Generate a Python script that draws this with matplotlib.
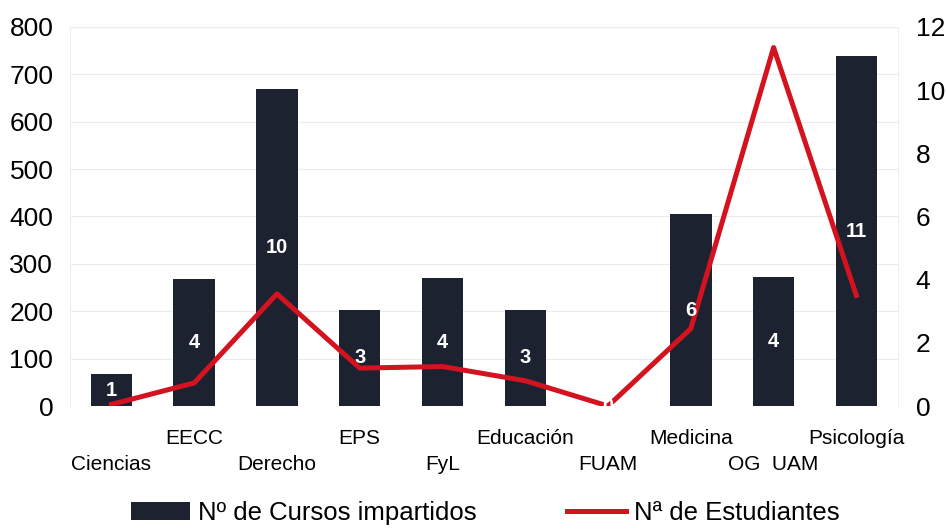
import matplotlib.pyplot as plt
import numpy as np

plt.rcParams['font.family'] = ['Liberation Sans', 'DejaVu Sans']

facultades = ["Ciencias", "EECC", "Derecho", "EPS", "FyL", "Educación",
              "FUAM", "Medicina", "OG  UAM", "Psicología"]
cursos = [67, 268, 669, 203, 270, 203, 0, 405, 272, 738]
estudiantes = [0.05, 0.73, 3.55, 1.2, 1.25, 0.8, 0.0, 2.45, 11.35, 3.5]
etiquetas = ["1", "4", "10", "3", "4", "3", "0", "6", "4", "11"]

bar_col = "#1d2231"
red = "#d3131f"

fig = plt.figure(figsize=(9.46, 5.29), dpi=100)
ax = fig.add_axes([0.074, 0.2325, 0.875, 0.7165])
ax2 = ax.twinx()

x = np.arange(len(facultades))
ax.bar(x, cursos, width=0.5, color=bar_col, zorder=2,
       label="Nº de Cursos impartidos")
ax2.plot(x, estudiantes, color=red, lw=3.6, zorder=4,
         label="Nª de Estudiantes")

ax.set_xlim(-0.5, len(facultades) - 0.5)
ax.set_ylim(0, 800)
ax2.set_ylim(0, 12)

# etiquetas blancas en el centro de cada barra, por encima de la linea
for xi, c, t in zip(x, cursos, etiquetas):
    ax2.text(xi, c / 2 * 12 / 800, t, ha="center", va="center", color="white",
             fontsize=14.5, fontweight="bold", zorder=5)

ax.set_yticks(range(0, 801, 100))
ax2.set_yticks(range(0, 13, 2))
ax.grid(axis="y", color="#ececec", lw=0.8, zorder=0)
ax.set_axisbelow(True)

# nombres escalonados: pares abajo (major), impares arriba (minor)
ax.set_xticks(x[::2])
ax.set_xticklabels(facultades[::2], fontsize=15)
ax.set_xticks(x[1::2], minor=True)
ax.set_xticklabels(facultades[1::2], minor=True, fontsize=15)
ax.tick_params(axis="x", which="major", length=0, pad=35)
ax.tick_params(axis="x", which="minor", length=0, pad=16.5)
ax.tick_params(axis="y", length=0, labelsize=19, pad=12)
ax2.tick_params(axis="y", length=0, labelsize=19, pad=13)

for a in (ax, ax2):
    for s in a.spines.values():
        s.set_visible(False)
ax.spines["left"].set_visible(True)
ax.spines["left"].set_color("#eeeeee")
ax2.spines["right"].set_visible(True)
ax2.spines["right"].set_color("#eeeeee")

ax2.set_zorder(ax.get_zorder() + 1)
ax2.patch.set_visible(False)

h1, l1 = ax.get_legend_handles_labels()
h2, l2 = ax2.get_legend_handles_labels()
fig.legend(h1 + h2, l1 + l2, loc="center", bbox_to_anchor=(0.513, 0.03),
           ncol=2, frameon=False, fontsize=18.5, handlelength=2.3,
           columnspacing=3.5, handletextpad=0.3)

fig.savefig("out.png", dpi=100)
